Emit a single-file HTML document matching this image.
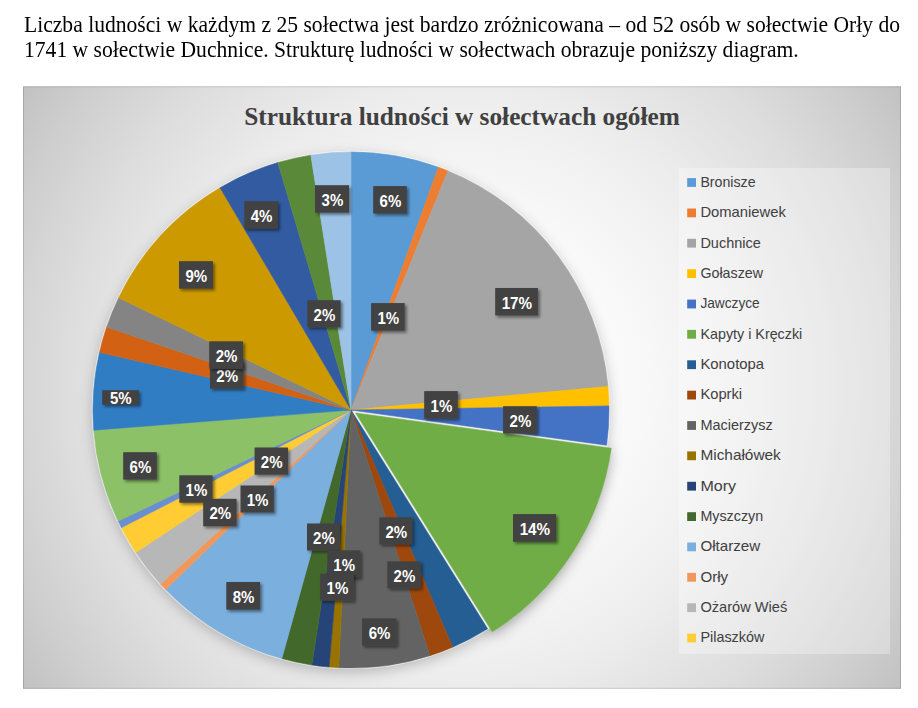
<!DOCTYPE html>
<html><head><meta charset="utf-8"><style>
html,body{margin:0;padding:0;background:#fff;width:918px;height:708px;overflow:hidden}
.p{position:absolute;left:24px;transform-origin:0 19.8px;transform:scaleY(1.07);font-family:"Liberation Serif",serif;font-size:21.6px;line-height:25px;color:#000;white-space:nowrap}
svg{position:absolute;left:0;top:0}
.lt{font-family:"Liberation Sans",sans-serif;font-weight:bold;font-size:16.2px;fill:#fff;text-anchor:middle}
.lg{font-family:"Liberation Sans",sans-serif;font-size:14.2px;fill:#404040}
.tt{font-family:"Liberation Serif",serif;font-weight:bold;font-size:25.3px;fill:#404040;text-anchor:middle}
</style></head><body>
<div class="p" style="top:13px">Liczba ludności w każdym z 25 sołectwa jest bardzo zróżnicowana – od 52 osób w sołectwie Orły do</div>
<div class="p" style="top:38px">1741 w sołectwie Duchnice. Strukturę ludności w sołectwach obrazuje poniższy diagram.</div>
<svg width="918" height="708" viewBox="0 0 918 708">
<defs>
<radialGradient id="bg" gradientUnits="userSpaceOnUse" cx="462" cy="387" r="530">
<stop offset="0.00" stop-color="rgb(255,255,255)"/>
<stop offset="0.05" stop-color="rgb(255,255,255)"/>
<stop offset="0.10" stop-color="rgb(254,254,254)"/>
<stop offset="0.15" stop-color="rgb(254,254,254)"/>
<stop offset="0.20" stop-color="rgb(253,253,253)"/>
<stop offset="0.25" stop-color="rgb(251,251,251)"/>
<stop offset="0.30" stop-color="rgb(250,250,250)"/>
<stop offset="0.35" stop-color="rgb(248,248,248)"/>
<stop offset="0.40" stop-color="rgb(245,245,245)"/>
<stop offset="0.45" stop-color="rgb(243,243,243)"/>
<stop offset="0.50" stop-color="rgb(240,240,240)"/>
<stop offset="0.55" stop-color="rgb(237,237,237)"/>
<stop offset="0.60" stop-color="rgb(233,233,233)"/>
<stop offset="0.65" stop-color="rgb(229,229,229)"/>
<stop offset="0.70" stop-color="rgb(225,225,225)"/>
<stop offset="0.75" stop-color="rgb(221,221,221)"/>
<stop offset="0.80" stop-color="rgb(216,216,216)"/>
<stop offset="0.85" stop-color="rgb(211,211,211)"/>
<stop offset="0.90" stop-color="rgb(206,206,206)"/>
<stop offset="0.95" stop-color="rgb(200,200,200)"/>
<stop offset="1.00" stop-color="rgb(194,194,194)"/>
</radialGradient>
<filter id="ls" x="-30%" y="-30%" width="160%" height="160%"><feDropShadow dx="2" dy="2" stdDeviation="1.5" flood-color="#000" flood-opacity="0.45"/></filter>
<filter id="ps" x="-10%" y="-10%" width="120%" height="120%"><feDropShadow dx="0" dy="4" stdDeviation="7" flood-color="#000" flood-opacity="0.24"/></filter>
</defs>
<rect x="23" y="86.3" width="878" height="602.5" fill="url(#bg)"/>
<rect x="23.5" y="86.8" width="877" height="601.5" fill="none" stroke="#000" stroke-opacity="0.14" stroke-width="1"/>
<text x="462" y="124.6" class="tt">Struktura ludności w sołectwach ogółem</text>
<path d="M355.62,412.99 L611.20,448.23 A258.0,258.0 0 0 1 492.22,631.86 Z" fill="#e8e8e8" filter="url(#ps)"/>
<circle cx="351.0" cy="410.0" r="258.0" fill="#eeeeee" filter="url(#ps)"/>
<circle cx="351.0" cy="410.0" r="258.5" fill="none" stroke="#fff" stroke-opacity="0.55" stroke-width="1.4"/>
<path d="M351.00,410.00 L351.00,152.00 A258.0,258.0 0 0 1 438.39,167.25 Z" fill="#5B9BD5" stroke="#5B9BD5" stroke-width="0.6" stroke-linejoin="round"/>
<path d="M351.00,410.00 L438.39,167.25 A258.0,258.0 0 0 1 447.90,170.89 Z" fill="#ED7D31" stroke="#ED7D31" stroke-width="0.6" stroke-linejoin="round"/>
<path d="M351.00,410.00 L447.90,170.89 A258.0,258.0 0 0 1 607.93,386.53 Z" fill="#A5A5A5" stroke="#A5A5A5" stroke-width="0.6" stroke-linejoin="round"/>
<path d="M351.00,410.00 L607.93,386.53 A258.0,258.0 0 0 1 608.97,405.95 Z" fill="#FFC000" stroke="#FFC000" stroke-width="0.6" stroke-linejoin="round"/>
<path d="M351.00,410.00 L608.97,405.95 A258.0,258.0 0 0 1 606.58,445.24 Z" fill="#4472C4" stroke="#4472C4" stroke-width="0.6" stroke-linejoin="round"/>
<path d="M355.62,412.99 L611.20,448.23 A258.0,258.0 0 0 1 492.22,631.86 Z" fill="#70AD47" stroke="#70AD47" stroke-width="0.6" stroke-linejoin="round"/>
<path d="M351.00,410.00 L487.60,628.87 A258.0,258.0 0 0 1 452.64,647.14 Z" fill="#245E92" stroke="#245E92" stroke-width="0.6" stroke-linejoin="round"/>
<path d="M351.00,410.00 L452.64,647.14 A258.0,258.0 0 0 1 429.87,655.65 Z" fill="#9E480E" stroke="#9E480E" stroke-width="0.6" stroke-linejoin="round"/>
<path d="M351.00,410.00 L429.87,655.65 A258.0,258.0 0 0 1 338.71,667.71 Z" fill="#636363" stroke="#636363" stroke-width="0.6" stroke-linejoin="round"/>
<path d="M351.00,410.00 L338.71,667.71 A258.0,258.0 0 0 1 329.10,667.07 Z" fill="#997300" stroke="#997300" stroke-width="0.6" stroke-linejoin="round"/>
<path d="M351.00,410.00 L329.10,667.07 A258.0,258.0 0 0 1 311.84,665.01 Z" fill="#264478" stroke="#264478" stroke-width="0.6" stroke-linejoin="round"/>
<path d="M351.00,410.00 L311.84,665.01 A258.0,258.0 0 0 1 281.79,658.54 Z" fill="#43682B" stroke="#43682B" stroke-width="0.6" stroke-linejoin="round"/>
<path d="M351.00,410.00 L281.79,658.54 A258.0,258.0 0 0 1 165.72,589.55 Z" fill="#7BAFDE" stroke="#7BAFDE" stroke-width="0.6" stroke-linejoin="round"/>
<path d="M351.00,410.00 L165.72,589.55 A258.0,258.0 0 0 1 160.48,583.97 Z" fill="#F0985B" stroke="#F0985B" stroke-width="0.6" stroke-linejoin="round"/>
<path d="M351.00,410.00 L160.48,583.97 A258.0,258.0 0 0 1 135.86,552.40 Z" fill="#B7B7B7" stroke="#B7B7B7" stroke-width="0.6" stroke-linejoin="round"/>
<path d="M351.00,410.00 L135.86,552.40 A258.0,258.0 0 0 1 121.41,527.69 Z" fill="#FFCD33" stroke="#FFCD33" stroke-width="0.6" stroke-linejoin="round"/>
<path d="M351.00,410.00 L121.41,527.69 A258.0,258.0 0 0 1 118.13,521.07 Z" fill="#698FD0" stroke="#698FD0" stroke-width="0.6" stroke-linejoin="round"/>
<path d="M351.00,410.00 L118.13,521.07 A258.0,258.0 0 0 1 93.79,430.15 Z" fill="#8CC168" stroke="#8CC168" stroke-width="0.6" stroke-linejoin="round"/>
<path d="M351.00,410.00 L93.79,430.15 A258.0,258.0 0 0 1 99.53,352.31 Z" fill="#317DC3" stroke="#317DC3" stroke-width="0.6" stroke-linejoin="round"/>
<path d="M351.00,410.00 L99.53,352.31 A258.0,258.0 0 0 1 106.69,327.07 Z" fill="#D26113" stroke="#D26113" stroke-width="0.6" stroke-linejoin="round"/>
<path d="M351.00,410.00 L106.69,327.07 A258.0,258.0 0 0 1 118.68,297.79 Z" fill="#848484" stroke="#848484" stroke-width="0.6" stroke-linejoin="round"/>
<path d="M351.00,410.00 L118.68,297.79 A258.0,258.0 0 0 1 220.06,187.70 Z" fill="#CC9A00" stroke="#CC9A00" stroke-width="0.6" stroke-linejoin="round"/>
<path d="M351.00,410.00 L220.06,187.70 A258.0,258.0 0 0 1 277.90,162.57 Z" fill="#335BA1" stroke="#335BA1" stroke-width="0.6" stroke-linejoin="round"/>
<path d="M351.00,410.00 L277.90,162.57 A258.0,258.0 0 0 1 310.86,155.14 Z" fill="#5A8A39" stroke="#5A8A39" stroke-width="0.6" stroke-linejoin="round"/>
<path d="M351.00,410.00 L310.86,155.14 A258.0,258.0 0 0 1 351.00,152.00 Z" fill="#9CC3E6" stroke="#9CC3E6" stroke-width="0.6" stroke-linejoin="round"/>
<g filter="url(#ls)"><rect x="373.2" y="186.1" width="33.6" height="27.5" fill="#424242"/></g><text x="390.4" y="206.6" class="lt" textLength="21.7" lengthAdjust="spacingAndGlyphs">6%</text>
<g filter="url(#ls)"><rect x="315.0" y="185.2" width="34.0" height="27.5" fill="#424242"/></g><text x="332.4" y="205.7" class="lt" textLength="21.7" lengthAdjust="spacingAndGlyphs">3%</text>
<g filter="url(#ls)"><rect x="244.3" y="201.2" width="33.7" height="27.7" fill="#424242"/></g><text x="261.6" y="221.7" class="lt" textLength="21.7" lengthAdjust="spacingAndGlyphs">4%</text>
<g filter="url(#ls)"><rect x="179.0" y="261.2" width="33.9" height="27.5" fill="#424242"/></g><text x="196.3" y="281.7" class="lt" textLength="21.7" lengthAdjust="spacingAndGlyphs">9%</text>
<g filter="url(#ls)"><rect x="495.2" y="288.0" width="42.7" height="27.5" fill="#424242"/></g><text x="516.9" y="308.5" class="lt" textLength="30.5" lengthAdjust="spacingAndGlyphs">17%</text>
<g filter="url(#ls)"><rect x="371.1" y="303.1" width="33.6" height="27.6" fill="#424242"/></g><text x="388.3" y="323.6" class="lt" textLength="21.7" lengthAdjust="spacingAndGlyphs">1%</text>
<g filter="url(#ls)"><rect x="307.3" y="300.2" width="33.4" height="27.2" fill="#424242"/></g><text x="324.4" y="320.7" class="lt" textLength="21.7" lengthAdjust="spacingAndGlyphs">2%</text>
<g filter="url(#ls)"><rect x="210.0" y="361.2" width="33.5" height="27.5" fill="#424242"/></g><text x="227.2" y="381.7" class="lt" textLength="21.7" lengthAdjust="spacingAndGlyphs">2%</text>
<g filter="url(#ls)"><rect x="209.2" y="341.3" width="33.9" height="27.5" fill="#424242"/></g><text x="226.5" y="361.8" class="lt" textLength="21.7" lengthAdjust="spacingAndGlyphs">2%</text>
<g filter="url(#ls)"><rect x="424.2" y="391.1" width="33.6" height="27.6" fill="#424242"/></g><text x="441.4" y="411.6" class="lt" textLength="21.7" lengthAdjust="spacingAndGlyphs">1%</text>
<g filter="url(#ls)"><rect x="503.1" y="406.2" width="33.7" height="27.4" fill="#424242"/></g><text x="520.4" y="426.7" class="lt" textLength="21.7" lengthAdjust="spacingAndGlyphs">2%</text>
<g filter="url(#ls)"><rect x="123.2" y="452.2" width="33.6" height="27.4" fill="#424242"/></g><text x="140.4" y="472.7" class="lt" textLength="21.7" lengthAdjust="spacingAndGlyphs">6%</text>
<g filter="url(#ls)"><rect x="254.6" y="447.5" width="33.4" height="27.2" fill="#424242"/></g><text x="271.7" y="468.0" class="lt" textLength="21.7" lengthAdjust="spacingAndGlyphs">2%</text>
<g filter="url(#ls)"><rect x="179.3" y="475.3" width="33.3" height="27.4" fill="#424242"/></g><text x="196.4" y="495.8" class="lt" textLength="21.7" lengthAdjust="spacingAndGlyphs">1%</text>
<g filter="url(#ls)"><rect x="203.2" y="498.8" width="33.4" height="27.5" fill="#424242"/></g><text x="220.3" y="519.3" class="lt" textLength="21.7" lengthAdjust="spacingAndGlyphs">2%</text>
<g filter="url(#ls)"><rect x="240.5" y="485.5" width="33.3" height="27.0" fill="#424242"/></g><text x="257.5" y="506.0" class="lt" textLength="21.7" lengthAdjust="spacingAndGlyphs">1%</text>
<g filter="url(#ls)"><rect x="513.0" y="514.1" width="43.1" height="27.7" fill="#424242"/></g><text x="534.9" y="534.6" class="lt" textLength="30.5" lengthAdjust="spacingAndGlyphs">14%</text>
<g filter="url(#ls)"><rect x="379.3" y="517.4" width="33.2" height="27.0" fill="#424242"/></g><text x="396.3" y="537.9" class="lt" textLength="21.7" lengthAdjust="spacingAndGlyphs">2%</text>
<g filter="url(#ls)"><rect x="307.0" y="523.5" width="33.0" height="27.0" fill="#424242"/></g><text x="323.9" y="544.0" class="lt" textLength="21.7" lengthAdjust="spacingAndGlyphs">2%</text>
<g filter="url(#ls)"><rect x="327.3" y="550.4" width="33.1" height="27.5" fill="#424242"/></g><text x="344.2" y="570.9" class="lt" textLength="21.7" lengthAdjust="spacingAndGlyphs">1%</text>
<g filter="url(#ls)"><rect x="320.2" y="573.7" width="33.6" height="27.0" fill="#424242"/></g><text x="337.4" y="594.2" class="lt" textLength="21.7" lengthAdjust="spacingAndGlyphs">1%</text>
<g filter="url(#ls)"><rect x="387.3" y="561.3" width="33.4" height="27.0" fill="#424242"/></g><text x="404.4" y="581.8" class="lt" textLength="21.7" lengthAdjust="spacingAndGlyphs">2%</text>
<g filter="url(#ls)"><rect x="226.3" y="582.0" width="33.8" height="27.7" fill="#424242"/></g><text x="243.6" y="602.5" class="lt" textLength="21.7" lengthAdjust="spacingAndGlyphs">8%</text>
<g filter="url(#ls)"><rect x="362.1" y="618.4" width="34.2" height="27.4" fill="#424242"/></g><text x="379.6" y="638.9" class="lt" textLength="21.7" lengthAdjust="spacingAndGlyphs">6%</text>
<g filter="url(#ls)"><rect x="102.2" y="390.2" width="36.7" height="14.6" fill="#424242"/></g><text x="120.8" y="404.1" class="lt" textLength="21.7" lengthAdjust="spacingAndGlyphs">5%</text>
<rect x="679" y="168" width="211" height="486" fill="#fff" fill-opacity="0.3"/>
<rect x="687.2" y="178.1" width="8.8" height="8.8" fill="#5B9BD5"/><text x="700.4" y="186.8" class="lg" textLength="55.2" lengthAdjust="spacingAndGlyphs">Bronisze</text>
<rect x="687.2" y="208.5" width="8.8" height="8.8" fill="#ED7D31"/><text x="700.4" y="217.2" class="lg" textLength="85.5" lengthAdjust="spacingAndGlyphs">Domaniewek</text>
<rect x="687.2" y="238.8" width="8.8" height="8.8" fill="#A5A5A5"/><text x="700.4" y="247.5" class="lg" textLength="60.4" lengthAdjust="spacingAndGlyphs">Duchnice</text>
<rect x="687.2" y="269.2" width="8.8" height="8.8" fill="#FFC000"/><text x="700.4" y="277.9" class="lg" textLength="62.6" lengthAdjust="spacingAndGlyphs">Gołaszew</text>
<rect x="687.2" y="299.6" width="8.8" height="8.8" fill="#4472C4"/><text x="700.4" y="308.3" class="lg" textLength="59.3" lengthAdjust="spacingAndGlyphs">Jawczyce</text>
<rect x="687.2" y="329.9" width="8.8" height="8.8" fill="#70AD47"/><text x="700.4" y="338.6" class="lg" textLength="101.9" lengthAdjust="spacingAndGlyphs">Kapyty i Kręczki</text>
<rect x="687.2" y="360.3" width="8.8" height="8.8" fill="#245E92"/><text x="700.4" y="369.0" class="lg" textLength="63.7" lengthAdjust="spacingAndGlyphs">Konotopa</text>
<rect x="687.2" y="390.7" width="8.8" height="8.8" fill="#9E480E"/><text x="700.4" y="399.4" class="lg" textLength="41.7" lengthAdjust="spacingAndGlyphs">Koprki</text>
<rect x="687.2" y="421.1" width="8.8" height="8.8" fill="#636363"/><text x="700.4" y="429.8" class="lg" textLength="72.4" lengthAdjust="spacingAndGlyphs">Macierzysz</text>
<rect x="687.2" y="451.4" width="8.8" height="8.8" fill="#997300"/><text x="700.4" y="460.1" class="lg" textLength="80.4" lengthAdjust="spacingAndGlyphs">Michałówek</text>
<rect x="687.2" y="481.8" width="8.8" height="8.8" fill="#264478"/><text x="700.4" y="490.5" class="lg" textLength="35.7" lengthAdjust="spacingAndGlyphs">Mory</text>
<rect x="687.2" y="512.2" width="8.8" height="8.8" fill="#43682B"/><text x="700.4" y="520.9" class="lg" textLength="62.8" lengthAdjust="spacingAndGlyphs">Myszczyn</text>
<rect x="687.2" y="542.5" width="8.8" height="8.8" fill="#7BAFDE"/><text x="700.4" y="551.2" class="lg" textLength="59.8" lengthAdjust="spacingAndGlyphs">Ołtarzew</text>
<rect x="687.2" y="572.9" width="8.8" height="8.8" fill="#F0985B"/><text x="700.4" y="581.6" class="lg" textLength="27.7" lengthAdjust="spacingAndGlyphs">Orły</text>
<rect x="687.2" y="603.3" width="8.8" height="8.8" fill="#B7B7B7"/><text x="700.4" y="612.0" class="lg" textLength="86.8" lengthAdjust="spacingAndGlyphs">Ożarów Wieś</text>
<rect x="687.2" y="633.6" width="8.8" height="8.8" fill="#FFCD33"/><text x="700.4" y="642.4" class="lg" textLength="64.0" lengthAdjust="spacingAndGlyphs">Pilaszków</text>
</svg>
</body></html>
